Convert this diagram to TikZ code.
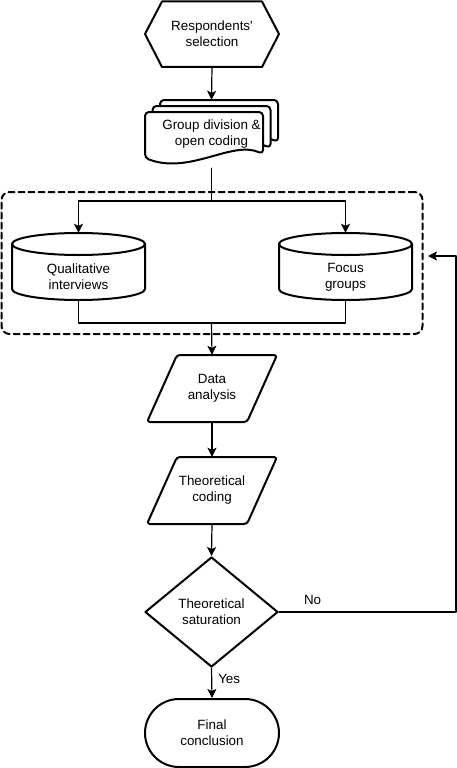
\documentclass[tikz,border=0pt]{standalone}
\usepackage{fontspec}
\setmainfont{Liberation Sans}
\usetikzlibrary{arrows.meta,shapes.geometric}
\begin{document}
\begin{tikzpicture}[line cap=round,line join=round,>={Stealth[length=9pt,width=9pt,inset=2pt]},x=1pt,y=-1pt,
  box/.style={line width=2pt},
  conn/.style={line width=1.2pt},
  txt/.style={align=center,font=\fontsize{13.4}{16}\selectfont,inner sep=0pt}]
\useasboundingbox (0,0) rectangle (457,768);
% dashed group round the two data sources
\node[draw,box,dash pattern=on 6pt off 4pt,rounded corners=8pt,minimum width=421pt,minimum height=142pt] (group) at (212,263) {};
% respondents' selection
\draw[box] (145,34)--(162,1.5)--(262,1.5)--(279,34)--(262,67)--(162,67)--cycle;
\node[txt,minimum width=134pt,minimum height=66pt] (sel) at (212,34) {Respondents\textquotesingle\\selection};
% stacked documents
\foreach \dx/\dy in {15/-12,7.5/-6,0/0}
  \draw[box,fill=white,rounded corners=4pt,shift={(\dx,\dy)}] (263,154) .. controls (232,140) and (190,175) .. (145,158) -- (145,112) -- (263,112) -- cycle;
\node[txt,minimum width=133pt,minimum height=68pt] (div) at (211.5,134) {Group division \&\\open coding};
% cylinders
\foreach \cx/\nm/\lbl in {78.5/qual/{Qualitative\\interviews},345.5/focus/{Focus\\groups}}{
  \draw[box,fill=white] (\cx-66.5,244) -- (\cx-66.5,289) arc[start angle=180,end angle=0,x radius=66.5,y radius=11]
    -- (\cx+66.5,244) arc[start angle=0,end angle=-180,x radius=66.5,y radius=11];
  \draw[box] (\cx-66.5,244) arc[start angle=180,end angle=0,x radius=66.5,y radius=11];
  \node[txt,minimum width=133pt,minimum height=46pt] (\nm) at (\cx,277) {\lbl};
}
% parallelograms
\foreach \cy/\nm/\lbl in {388.5/data/{Data\\analysis},490.5/coding/{Theoretical\\coding}}{
  \draw[box,rounded corners=3pt] (177,\cy-33.5) -- (277,\cy-33.5) -- (247,\cy+33.5) -- (147,\cy+33.5) -- cycle;
  \node[txt,minimum width=130pt,minimum height=67pt] (\nm) at (212,\cy) {\lbl};
}
\node[diamond,draw,box,txt,minimum width=133pt,minimum height=110pt] (sat) at (211.5,612) {Theoretical\\saturation};
\node[draw,box,txt,rounded corners=34pt,minimum width=134pt,minimum height=68pt] (final) at (212,733) {Final\\conclusion};
\coordinate (split) at (211.5,201);
\coordinate (join) at (211.5,323);
\coordinate (back) at (428,256);
% connectors
\draw[conn,->] (sel.south) -- (div.north);
\draw[conn] (div.south) -- (split);
\draw[conn,->] (split) -| ([yshift=21pt]qual.north);
\draw[conn,->] (split) -| ([yshift=21pt]focus.north);
\draw[conn] (qual.south) |- (join);
\draw[conn] (focus.south) |- (join);
\draw[conn,->] (join) -- (data.north);
\draw[conn,->] (data.south) -- (coding.north);
\draw[conn,->] (coding.south) -- (sat.north);
\draw[conn,->] (sat.south) -- node[txt,pos=0.35,right=6pt]{Yes} (final.north);
\draw[conn,->] (sat.east) -- node[txt,pos=0.19,above=7pt]{No} ++(177,0) |- (back);
\end{tikzpicture}
\end{document}
